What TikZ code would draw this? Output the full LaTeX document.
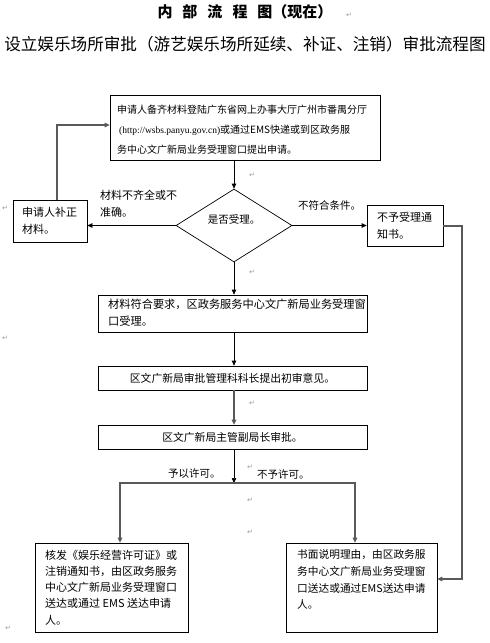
\documentclass[tikz,border=0pt]{standalone}
\usepackage{fontspec}
\setmainfont{Liberation Serif}
\newfontfamily\cjk{Noto Sans CJK SC}
\newfontfamily\symf{DejaVu Sans}
\usetikzlibrary{arrows.meta,shapes.geometric}
\newcommand\fs[2]{\fontsize{#1}{#2}\selectfont}
\tikzset{
  boxs/.style={draw, line width=0.7pt, rectangle, inner sep=0pt},
  txt/.style={inner sep=0pt, align=left, anchor=north west},
  lbl/.style={inner sep=0pt, anchor=west, font=\cjk\fs{10.5}{13}},
  conn/.style={line width=0.7pt, -{Triangle[length=5pt,width=4.5pt]}},
  gconn/.style={line width=1.2pt, draw=black!65, -{Triangle[length=5pt,width=4.5pt]}},
  pm/.style={inner sep=0pt, font=\symf\fs{7}{8}, text=black!40},
}
\begin{document}
\begin{tikzpicture}[x=1pt,y=-1pt]
\useasboundingbox[fill=white] (0,0) rectangle (490,643);

% titles
\node[font=\cjk\bfseries\fs{15}{18}] (title) at (245,12) {内\hspace{10pt}部\hspace{10pt}流\hspace{10pt}程\hspace{10pt}图（现在）};
\node[font=\cjk\fs{16.6}{20}] (sub) at (245,44) {设立娱乐场所审批（游艺娱乐场所延续、补证、注销）审批流程图};

% boxes
\node[boxs, minimum width=270pt, minimum height=65pt] (apply) at (245,127.5) {};
\node[draw, diamond, line width=0.7pt, inner sep=0pt, minimum width=116pt, minimum height=73pt] (dec) at (234,225.5) {};
\node[boxs, minimum width=74pt, minimum height=42pt] (supp) at (50,221) {};
\node[boxs, minimum width=76pt, minimum height=41pt] (rej) at (405,225.5) {};
\node[boxs, minimum width=269pt, minimum height=37pt] (accept) at (232.5,313.5) {};
\node[boxs, minimum width=269pt, minimum height=24pt, font=\cjk\fs{10.8}{13}] (first) at (232.5,378) {区文广新局审批管理科科长提出初审意见。};
\node[boxs, minimum width=269pt, minimum height=24pt, font=\cjk\fs{10.8}{13}] (final) at (232.5,437) {区文广新局主管副局长审批。};
\node[boxs, minimum width=153pt, minimum height=89pt] (grant) at (111.5,587.5) {};
\node[boxs, minimum width=151pt, minimum height=89pt] (deny) at (361.5,587.5) {};

% box texts
\node[txt, font=\cjk\fs{10}{20}] (t1) at (117,105) {申请人备齐材料登陆广东省网上办事大厅广州市番禺分厅\\\hspace{2pt}{\rmfamily\fontsize{9.5}{20}\selectfont(http://wsbs.panyu.gov.cn)}或通过EMS快递或到区政务服\\务中心文广新局业务受理窗口提出申请。};
\node[font=\cjk\fs{10.5}{13}, inner sep=0pt] (tdec) at (234,219) {是否受理。};
\node[txt, font=\cjk\fs{11}{17}] (tsupp) at (22,207.5) {申请人补正\\材料。};
\node[txt, font=\cjk\fs{11}{17}] (trej) at (377,212.5) {不予受理通\\知书。};
\node[txt, font=\cjk\fs{11.2}{17}] (tacc) at (108,298.4) {材料符合要求，区政务服务中心文广新局业务受理窗\\口受理。};
\node[txt, font=\cjk\fs{11}{16.3}] (tgrant) at (45,549.5) {核发《娱乐经营许可证》或\\注销通知书，由区政务服务\\中心文广新局业务受理窗口\\送达或通过 EMS 送达申请\\人。};
\node[txt, font=\cjk\fs{10.7}{16.7}] (tdeny) at (297,549.6) {书面说明理由，由区政务服\\务中心文广新局业务受理窗\\口送达或通过EMS送达申请\\人。};

% labels
\node[txt, font=\cjk\fs{11}{17}] (lmiss) at (100,189.5) {材料不齐全或不\\准确。};
\node[lbl] (lnot) at (298,205) {不符合条件。};
\node[lbl] (lyes) at (168,474) {予以许可。};
\node[lbl] (lno) at (257,474) {不予许可。};

% connectors
\draw[conn] (dec.north |- apply.south) -- (dec.north);
\draw[conn] (dec.west) -- (dec.west -| supp.east);
\draw[conn] (dec.east) -- (dec.east -| rej.west);
\coordinate (lf) at (57,125);
\draw[gconn] (supp.north -| lf) -- (lf) -- (lf -| apply.west);
\coordinate (rf) at (462,226);
\coordinate (rf2) at (462,579);
\draw[gconn] (rej.east |- rf) -- (rf) -- (rf2) -- (rf2 -| deny.east);
\draw[conn] (dec.south) -- (dec.south |- accept.north);
\draw[conn] (dec.south |- accept.south) -- (dec.south |- first.north);
\draw[gconn] (dec.south |- first.south) -- (dec.south |- final.north);
\coordinate (sp) at (234,483);
\coordinate (sl) at (120,483);
\coordinate (sr) at (355,483);
\draw[conn] (dec.south |- final.south) -- (sp);
\draw[gconn] (sp) -- (sl) -- (sl |- grant.north);
\draw[gconn] (sp) -- (sr) -- (sr |- deny.north);

% paragraph marks
\node[pm] (p1) at (349,15) {↵};
\node[pm] (p2) at (252,175) {↵};
\node[pm] (p3) at (5,208) {↵};
\node[pm] (p4) at (252,272) {↵};
\node[pm] (p5) at (5,338) {↵};
\node[pm] (p6) at (252,403) {↵};
\node[pm] (p7) at (250,467) {↵};
\node[pm] (p8) at (250,500) {↵};
\node[pm] (p9) at (250,532) {↵};
\node[pm] (p10) at (8,628) {↵};
\end{tikzpicture}
\end{document}
